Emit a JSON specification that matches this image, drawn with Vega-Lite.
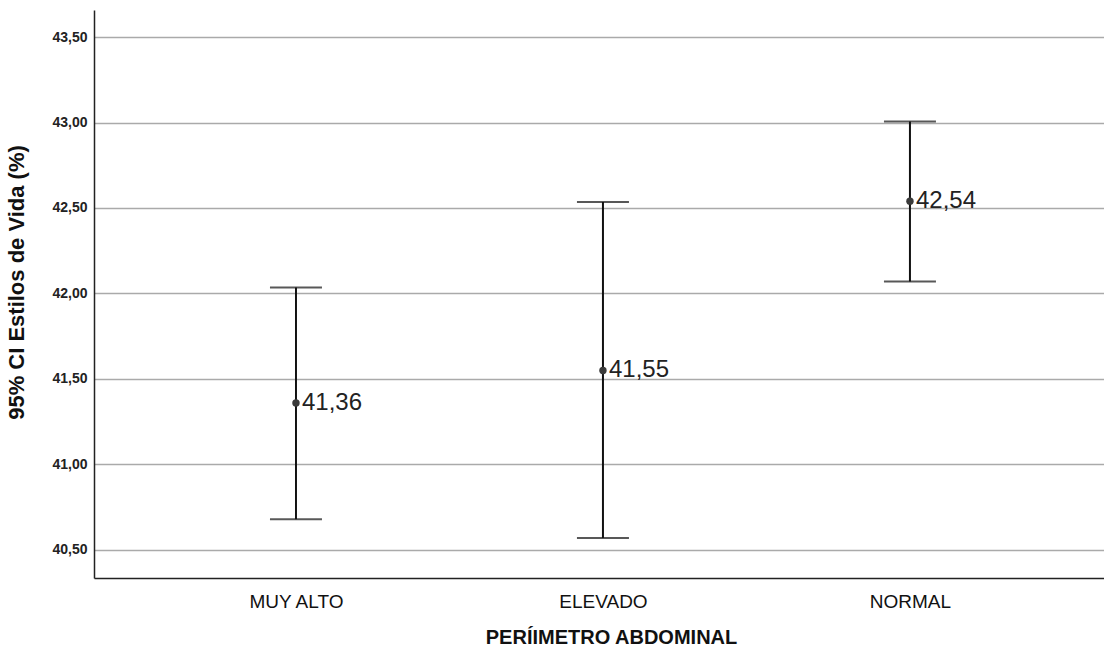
{
  "$schema": "https://vega.github.io/schema/vega-lite/v6.json",
  "width": 1010,
  "height": 568,
  "autosize": {"type": "none"},
  "padding": {"left": 94, "top": 10, "right": 0, "bottom": 76},
  "background": "white",
  "config": {
    "view": {"stroke": null},
    "font": "Liberation Sans"
  },
  "data": {
    "values": [
      {"grupo": "MUY ALTO", "media": 41.36, "lo": 40.68, "hi": 42.035, "etiqueta": "41,36"},
      {"grupo": "ELEVADO", "media": 41.55, "lo": 40.57, "hi": 42.535, "etiqueta": "41,55"},
      {"grupo": "NORMAL", "media": 42.54, "lo": 42.07, "hi": 43.006, "etiqueta": "42,54"}
    ]
  },
  "encoding": {
    "x": {
      "field": "grupo",
      "type": "nominal",
      "sort": ["MUY ALTO", "ELEVADO", "NORMAL"],
      "scale": {"type": "point", "padding": 0.645, "align": 0.51},
      "axis": {
        "title": "PERÍIMETRO ABDOMINAL",
        "titleFont": "Liberation Sans",
        "titleFontSize": 20,
        "titleFontWeight": "bold",
        "titleColor": "#111",
        "titlePadding": 16,
        "titleX": 517,
        "labelFont": "Liberation Sans",
        "labelFontSize": 19,
        "labelColor": "#111",
        "labelPadding": 14,
        "labelAngle": 0,
        "ticks": false,
        "domainColor": "#222",
        "domainWidth": 1.5,
        "grid": false
      }
    }
  },
  "layer": [
    {
      "mark": {"type": "rule", "color": "#111", "strokeWidth": 2},
      "encoding": {
        "y": {
          "field": "lo",
          "type": "quantitative",
          "scale": {"domain": [40.336, 43.658], "nice": false, "zero": false},
          "axis": {
            "title": "95% CI Estilos de Vida (%)",
            "titleFont": "Liberation Sans",
            "titleFontSize": 22,
            "titleFontWeight": "bold",
            "titleColor": "#111",
            "titleX": -66,
            "titleY": 272,
            "values": [40.5, 41, 41.5, 42, 42.5, 43, 43.5],
            "labelExpr": "replace(format(datum.value, '.2f'), '.', ',')",
            "labelFont": "Liberation Sans",
            "labelFontSize": 14,
            "labelFontWeight": "bold",
            "labelColor": "#222",
            "labelPadding": 7,
            "ticks": false,
            "domainColor": "#222",
            "domainWidth": 1.5,
            "grid": true,
            "gridColor": "#aaaaaa",
            "gridWidth": 1.5
          }
        },
        "y2": {"field": "hi"}
      }
    },
    {
      "mark": {"type": "tick", "color": "#111", "size": 52, "thickness": 2, "orient": "horizontal"},
      "encoding": {"y": {"field": "lo", "type": "quantitative"}}
    },
    {
      "mark": {"type": "tick", "color": "#111", "size": 52, "thickness": 2, "orient": "horizontal"},
      "encoding": {"y": {"field": "hi", "type": "quantitative"}}
    },
    {
      "mark": {"type": "point", "filled": true, "color": "#3a3a3a", "size": 55, "opacity": 1},
      "encoding": {"y": {"field": "media", "type": "quantitative"}}
    },
    {
      "mark": {"type": "text", "align": "left", "baseline": "middle", "dx": 6, "fontSize": 24, "font": "Liberation Sans", "color": "#222"},
      "encoding": {
        "y": {"field": "media", "type": "quantitative"},
        "text": {"field": "etiqueta"}
      }
    }
  ]
}
